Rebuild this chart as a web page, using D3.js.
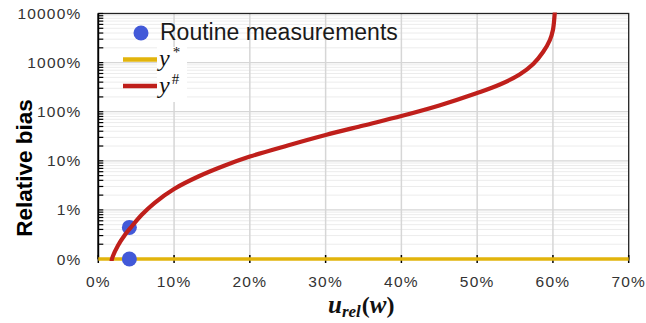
<!DOCTYPE html>
<html>
<head>
<meta charset="utf-8">
<script src="https://cdn.jsdelivr.net/npm/d3@7"></script>
<style>
  body { margin: 0; background: #fff; }
  svg { display: block; }
</style>
</head>
<body>
<svg id="chart" width="646" height="323"></svg>
<script>
// x = u_rel(w) in %, y = relative bias in %
const measU = [4.1, 4.1];
const measBias = [0.44, 0];

const starU = [0, 70];
const starBias = [0, 0];

const hashU = [1.75, 1.8, 2.6, 3.5, 4.4, 5.7, 7.4, 10, 13.2, 16.7, 20, 25, 30, 35, 40, 45, 50, 53, 55.6, 57.4, 58.7, 59.6, 60.0, 60.2, 60.3];
const hashBias = [0.085, 0.1, 0.188, 0.308, 0.459, 0.787, 1.38, 2.67, 4.79, 8.02, 12.2, 20.5, 33.5, 52.4, 81.7, 134, 240, 358, 572, 936, 1640, 2890, 4610, 8490, 14200];

const xTicks = [0, 10, 20, 30, 40, 50, 60, 70];
const xTickLabels = ['0%', '10%', '20%', '30%', '40%', '50%', '60%', '70%'];
const yTicks = [0.1, 1, 10, 100, 1000, 10000];
const yTickLabels = ['0%', '1%', '10%', '100%', '1000%', '10000%'];

const svg = d3.select('#chart');
const pL = 98.3, pR = 628.7, pT = 13.5, pB = 259;

const x = d3.scaleLinear().domain([0, 70]).range([pL, pR]);
const y = d3.scaleLog().domain([0.1, 10000]).range([pB, pT]);
const yv = v => y(Math.max(v, 0.1));

const blue = '#4259d8', gold = '#e2b40c', red = '#bf1f1b';

// minor + major horizontal grid
const minor = [];
yTicks.slice(0, -1).forEach(d => { for (let k = 2; k <= 9; k++) minor.push(d * k); });
svg.append('g').selectAll('line').data(minor).enter().append('line')
  .attr('x1', pL).attr('x2', pR)
  .attr('y1', d => y(d)).attr('y2', d => y(d))
  .attr('stroke', '#ececec').attr('stroke-width', 1);
svg.append('g').selectAll('line').data(yTicks).enter().append('line')
  .attr('x1', pL).attr('x2', pR)
  .attr('y1', d => y(d)).attr('y2', d => y(d))
  .attr('stroke', '#d6d6d6').attr('stroke-width', 1.2);
svg.append('g').selectAll('line').data(xTicks.slice(1, -1)).enter().append('line')
  .attr('x1', d => x(d)).attr('x2', d => x(d))
  .attr('y1', pT).attr('y2', pB)
  .attr('stroke', '#d6d6d6').attr('stroke-width', 1.5);

// frame
svg.append('rect').attr('x', pL).attr('y', pT)
  .attr('width', pR - pL).attr('height', pB - pT)
  .attr('fill', 'none').attr('stroke', '#222').attr('stroke-width', 1.3);
svg.append('line').attr('x1', pL).attr('x2', pL).attr('y1', pT).attr('y2', pB)
  .attr('stroke', '#000').attr('stroke-width', 1.8);

// y axis ticks (inside)
svg.append('g').selectAll('line').data(minor.concat(yTicks)).enter().append('line')
  .attr('x1', pL).attr('x2', pL + 5)
  .attr('y1', d => y(d)).attr('y2', d => y(d))
  .attr('stroke', '#000').attr('stroke-width', 1.2);

// x axis ticks (cross)
svg.append('g').selectAll('line').data(xTicks).enter().append('line')
  .attr('x1', d => x(d)).attr('x2', d => x(d))
  .attr('y1', pB - 4).attr('y2', pB + 4)
  .attr('stroke', '#000').attr('stroke-width', 1.5);

// tick labels
svg.append('g').selectAll('text').data(yTicks).enter().append('text')
  .attr('x', 81.5).attr('y', d => y(d)).attr('dy', '0.36em')
  .attr('text-anchor', 'end')
  .style('font', '15.5px "Liberation Sans", Arial, sans-serif')
  .style('letter-spacing', '1.2px')
  .attr('fill', '#333')
  .text((d, i) => yTickLabels[i]);
svg.append('g').selectAll('text').data(xTicks).enter().append('text')
  .attr('x', d => x(d)).attr('y', 287)
  .attr('text-anchor', 'middle')
  .style('font', '15.5px "Liberation Sans", Arial, sans-serif')
  .style('letter-spacing', '1.2px')
  .attr('fill', '#333')
  .text((d, i) => xTickLabels[i]);

// axis titles
svg.append('text')
  .attr('transform', 'translate(32,168) rotate(-90)')
  .attr('text-anchor', 'middle')
  .style('font', 'bold 22.5px "Liberation Sans", Arial, sans-serif')
  .attr('fill', '#000')
  .text('Relative bias');

const xt = svg.append('text').attr('x', 328).attr('y', 313)
  .style('font-family', '"Liberation Serif", serif')
  .style('font-weight', 'bold').attr('fill', '#111');
xt.append('tspan').style('font-style', 'italic').style('font-size', '25px').text('u');
xt.append('tspan').style('font-style', 'italic').style('font-size', '17px').attr('dy', 4).text('rel');
xt.append('tspan').style('font-size', '24px').attr('dx', 1).attr('dy', -4).text('(');
xt.append('tspan').style('font-style', 'italic').style('font-size', '25px').text('w');
xt.append('tspan').style('font-size', '24px').text(')');

// series
svg.append('clipPath').attr('id', 'plot')
  .append('rect').attr('x', pL).attr('y', pT - 1)
  .attr('width', pR - pL).attr('height', pB - pT + 3);

svg.append('path')
  .datum(starU.map((u, i) => [u, starBias[i]]))
  .attr('d', d3.line().x(d => x(d[0])).y(d => yv(d[1])))
  .attr('fill', 'none').attr('stroke', gold).attr('stroke-width', 3.5);

svg.append('g').selectAll('circle').data(measU.map((u, i) => [u, measBias[i]])).enter()
  .append('circle')
  .attr('cx', d => x(d[0])).attr('cy', d => yv(d[1])).attr('r', 7.5)
  .attr('fill', blue);

svg.append('path')
  .datum(hashU.map((u, i) => [u, hashBias[i]]))
  .attr('clip-path', 'url(#plot)')
  .attr('d', d3.line().x(d => x(d[0])).y(d => y(d[1])).curve(d3.curveCatmullRom.alpha(0.5)))
  .attr('fill', 'none').attr('stroke', red).attr('stroke-width', 4.2)
  .attr('stroke-linejoin', 'round');

// legend
const lg = svg.append('g');
lg.append('rect').attr('x', 157).attr('y', 47).attr('width', 30).attr('height', 55).attr('fill', '#fff');
lg.append('circle').attr('cx', 141).attr('cy', 33).attr('r', 7.5).attr('fill', blue);
lg.append('text').attr('x', 160).attr('y', 39.5)
  .style('font', '23px "Liberation Sans", Arial, sans-serif').attr('fill', '#1a1a1a')
  .text('Routine measurements');
lg.append('line').attr('x1', 123).attr('x2', 157).attr('y1', 59.5).attr('y2', 59.5)
  .attr('stroke', gold).attr('stroke-width', 4.5);
lg.append('line').attr('x1', 123).attr('x2', 157).attr('y1', 86).attr('y2', 86)
  .attr('stroke', red).attr('stroke-width', 4.5);
const l1 = lg.append('text').attr('x', 159).attr('y', 66)
  .style('font-family', '"Liberation Serif", serif').attr('fill', '#111');
l1.append('tspan').style('font-style', 'italic').style('font-size', '24px').text('y');
l1.append('tspan').style('font-size', '15px').attr('dx', 3).attr('dy', -9).text('*');
const l2 = lg.append('text').attr('x', 159).attr('y', 93)
  .style('font-family', '"Liberation Serif", serif').attr('fill', '#111');
l2.append('tspan').style('font-style', 'italic').style('font-size', '24px').text('y');
l2.append('tspan').style('font-size', '15px').attr('dx', 2).attr('dy', -9).text('#');
</script>
</body>
</html>
